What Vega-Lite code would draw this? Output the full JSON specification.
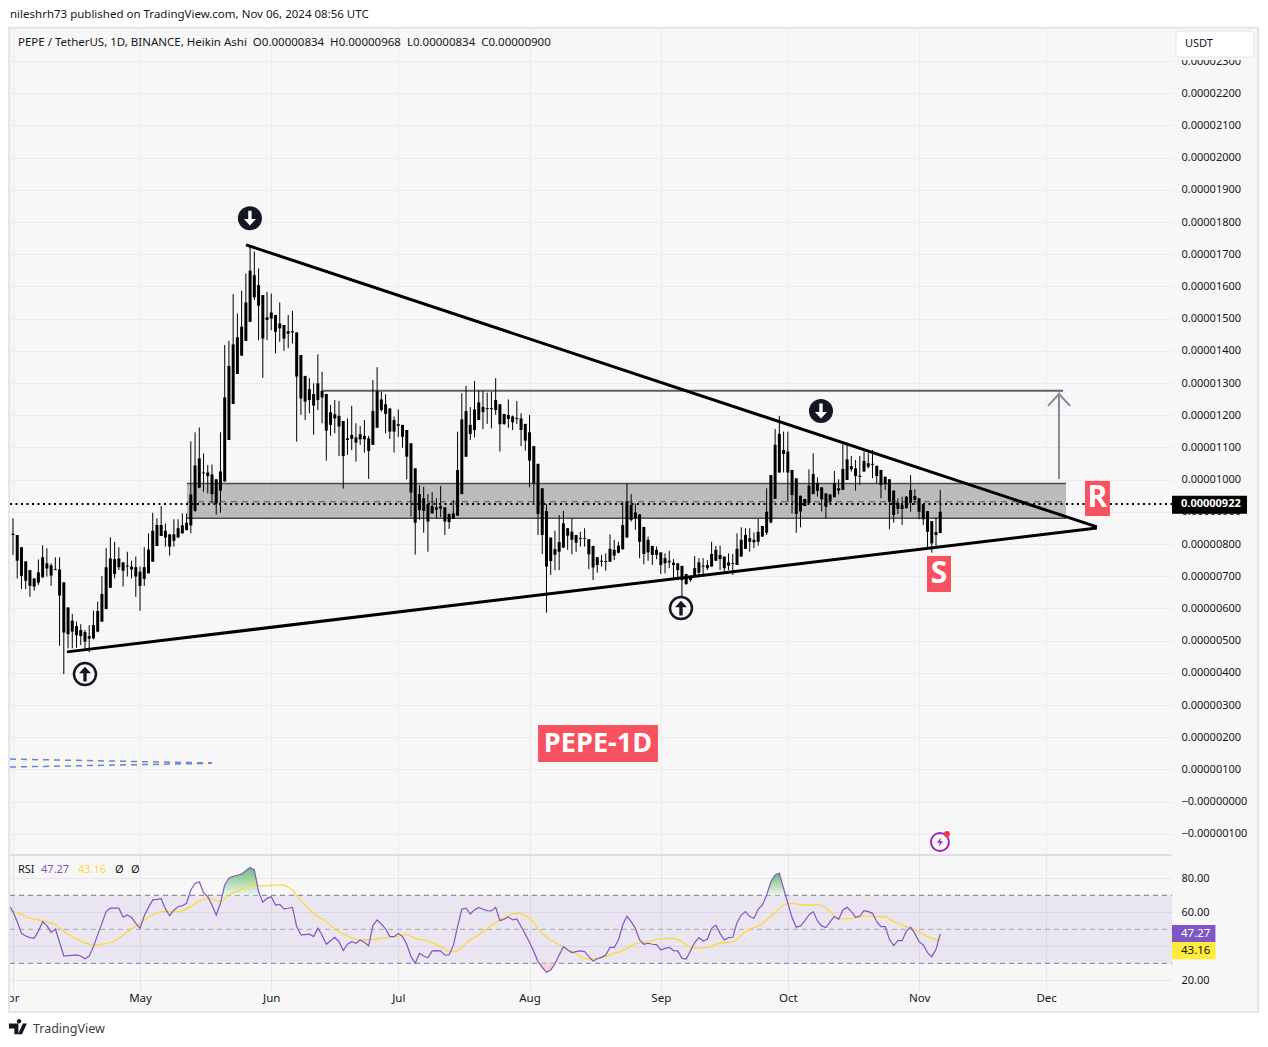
{"$schema":"https://vega.github.io/schema/vega-lite/v6.json","padding":{"left":-1,"top":0,"right":0,"bottom":0},"background":"#f7f7f7","spacing":0,"bounds":"flush","config":{"view":{"stroke":null},"font":"Noto Sans"},
"datasets":{"candles":[
{"d":"2024-04-01","h":880,"l":766,"t":832,"b":828},{"d":"2024-04-02","h":828,"l":693,"t":828,"b":748},{"d":"2024-04-03","h":790,"l":660,"t":790,"b":701},{"d":"2024-04-04","h":746,"l":660,"t":746,"b":686},{"d":"2024-04-05","h":719,"l":636,"t":719,"b":670},{"d":"2024-04-06","h":693,"l":655,"t":693,"b":668},{"d":"2024-04-07","h":752,"l":673,"t":712,"b":680},{"d":"2024-04-08","h":796,"l":694,"t":759,"b":697},{"d":"2024-04-09","h":787,"l":699,"t":740,"b":724},{"d":"2024-04-10","h":740,"l":670,"t":734,"b":702},
{"d":"2024-04-11","h":759,"l":719,"t":722,"b":719},{"d":"2024-04-12","h":759,"l":484,"t":721,"b":640},{"d":"2024-04-13","h":681,"l":396,"t":681,"b":525},{"d":"2024-04-14","h":603,"l":476,"t":603,"b":520},{"d":"2024-04-15","h":583,"l":476,"t":562,"b":528},{"d":"2024-04-16","h":559,"l":478,"t":545,"b":517},{"d":"2024-04-17","h":551,"l":486,"t":533,"b":514},{"d":"2024-04-18","h":533,"l":469,"t":527,"b":497},{"d":"2024-04-19","h":548,"l":464,"t":514,"b":506},{"d":"2024-04-20","h":593,"l":504,"t":548,"b":507},
{"d":"2024-04-21","h":621,"l":526,"t":592,"b":528},{"d":"2024-04-22","h":701,"l":559,"t":645,"b":559},{"d":"2024-04-23","h":787,"l":598,"t":728,"b":598},{"d":"2024-04-24","h":821,"l":664,"t":755,"b":664},{"d":"2024-04-25","h":807,"l":693,"t":753,"b":707},{"d":"2024-04-26","h":790,"l":719,"t":755,"b":728},{"d":"2024-04-27","h":743,"l":668,"t":743,"b":717},{"d":"2024-04-28","h":776,"l":699,"t":733,"b":730},{"d":"2024-04-29","h":748,"l":693,"t":730,"b":721},{"d":"2024-04-30","h":761,"l":636,"t":728,"b":699},
{"d":"2024-05-01","h":730,"l":593,"t":714,"b":670},{"d":"2024-05-02","h":790,"l":670,"t":728,"b":692},{"d":"2024-05-03","h":833,"l":709,"t":783,"b":709},{"d":"2024-05-04","h":897,"l":745,"t":841,"b":745},{"d":"2024-05-05","h":880,"l":794,"t":859,"b":794},{"d":"2024-05-06","h":918,"l":825,"t":859,"b":825},{"d":"2024-05-07","h":864,"l":792,"t":841,"b":820},{"d":"2024-05-08","h":830,"l":764,"t":830,"b":792},{"d":"2024-05-09","h":877,"l":792,"t":830,"b":810},{"d":"2024-05-10","h":877,"l":820,"t":849,"b":820},
{"d":"2024-05-11","h":895,"l":833,"t":858,"b":833},{"d":"2024-05-12","h":895,"l":843,"t":866,"b":843},{"d":"2024-05-13","h":1119,"l":833,"t":954,"b":858},{"d":"2024-05-14","h":1147,"l":900,"t":1044,"b":903},{"d":"2024-05-15","h":1162,"l":973,"t":1066,"b":975},{"d":"2024-05-16","h":1081,"l":962,"t":1022,"b":1019},{"d":"2024-05-17","h":1045,"l":957,"t":1022,"b":1011},{"d":"2024-05-18","h":1047,"l":926,"t":1016,"b":955},{"d":"2024-05-19","h":1001,"l":891,"t":1001,"b":926},{"d":"2024-05-20","h":1147,"l":897,"t":1025,"b":966},
{"d":"2024-05-21","h":1418,"l":994,"t":1255,"b":994},{"d":"2024-05-22","h":1431,"l":1123,"t":1353,"b":1123},{"d":"2024-05-23","h":1576,"l":1235,"t":1420,"b":1235},{"d":"2024-05-24","h":1516,"l":1328,"t":1442,"b":1328},{"d":"2024-05-25","h":1587,"l":1385,"t":1475,"b":1385},{"d":"2024-05-26","h":1640,"l":1431,"t":1550,"b":1431},{"d":"2024-05-27","h":1721,"l":1490,"t":1649,"b":1490},{"d":"2024-05-28","h":1708,"l":1558,"t":1635,"b":1566},{"d":"2024-05-29","h":1656,"l":1433,"t":1604,"b":1540},{"d":"2024-05-30","h":1573,"l":1316,"t":1573,"b":1438},
{"d":"2024-05-31","h":1583,"l":1433,"t":1504,"b":1496},{"d":"2024-06-01","h":1578,"l":1464,"t":1519,"b":1500},{"d":"2024-06-02","h":1511,"l":1392,"t":1511,"b":1459},{"d":"2024-06-03","h":1550,"l":1428,"t":1485,"b":1470},{"d":"2024-06-04","h":1480,"l":1400,"t":1480,"b":1438},{"d":"2024-06-05","h":1511,"l":1408,"t":1461,"b":1453},{"d":"2024-06-06","h":1524,"l":1423,"t":1461,"b":1457},{"d":"2024-06-07","h":1457,"l":1118,"t":1457,"b":1320},{"d":"2024-06-08","h":1387,"l":1201,"t":1387,"b":1252},{"d":"2024-06-09","h":1322,"l":1185,"t":1322,"b":1242},
{"d":"2024-06-10","h":1315,"l":1206,"t":1281,"b":1247},{"d":"2024-06-11","h":1299,"l":1139,"t":1266,"b":1230},{"d":"2024-06-12","h":1389,"l":1216,"t":1299,"b":1247},{"d":"2024-06-13","h":1335,"l":1175,"t":1276,"b":1255},{"d":"2024-06-14","h":1266,"l":1059,"t":1266,"b":1152},{"d":"2024-06-15","h":1232,"l":1136,"t":1209,"b":1170},{"d":"2024-06-16","h":1247,"l":1144,"t":1203,"b":1190},{"d":"2024-06-17","h":1244,"l":1073,"t":1198,"b":1165},{"d":"2024-06-18","h":1182,"l":972,"t":1182,"b":1073},{"d":"2024-06-19","h":1190,"l":1077,"t":1128,"b":1123},
{"d":"2024-06-20","h":1229,"l":1092,"t":1139,"b":1127},{"d":"2024-06-21","h":1175,"l":1056,"t":1131,"b":1115},{"d":"2024-06-22","h":1167,"l":1108,"t":1141,"b":1125},{"d":"2024-06-23","h":1185,"l":1084,"t":1136,"b":1125},{"d":"2024-06-24","h":1136,"l":1002,"t":1128,"b":1089},{"d":"2024-06-25","h":1309,"l":1108,"t":1213,"b":1108},{"d":"2024-06-26","h":1349,"l":1161,"t":1275,"b":1161},{"d":"2024-06-27","h":1273,"l":1211,"t":1249,"b":1216},{"d":"2024-06-28","h":1265,"l":1144,"t":1234,"b":1204},{"d":"2024-06-29","h":1221,"l":1126,"t":1221,"b":1149},
{"d":"2024-06-30","h":1196,"l":1084,"t":1185,"b":1149},{"d":"2024-07-01","h":1218,"l":1133,"t":1172,"b":1167},{"d":"2024-07-02","h":1170,"l":1099,"t":1170,"b":1133},{"d":"2024-07-03","h":1154,"l":1001,"t":1154,"b":1071},{"d":"2024-07-04","h":1113,"l":885,"t":1113,"b":960},{"d":"2024-07-05","h":1035,"l":767,"t":1035,"b":866},{"d":"2024-07-06","h":983,"l":875,"t":955,"b":905},{"d":"2024-07-07","h":978,"l":835,"t":942,"b":903},{"d":"2024-07-08","h":955,"l":776,"t":924,"b":870},{"d":"2024-07-09","h":961,"l":895,"t":918,"b":895},
{"d":"2024-07-10","h":942,"l":878,"t":914,"b":906},{"d":"2024-07-11","h":980,"l":883,"t":918,"b":910},{"d":"2024-07-12","h":914,"l":828,"t":914,"b":870},{"d":"2024-07-13","h":895,"l":847,"t":893,"b":868},{"d":"2024-07-14","h":937,"l":878,"t":895,"b":878},{"d":"2024-07-15","h":1149,"l":888,"t":1030,"b":888},{"d":"2024-07-16","h":1268,"l":955,"t":1187,"b":955},{"d":"2024-07-17","h":1291,"l":1071,"t":1213,"b":1071},{"d":"2024-07-18","h":1225,"l":1123,"t":1170,"b":1142},{"d":"2024-07-19","h":1306,"l":1131,"t":1218,"b":1154},
{"d":"2024-07-20","h":1278,"l":1185,"t":1240,"b":1185},{"d":"2024-07-21","h":1275,"l":1157,"t":1226,"b":1210},{"d":"2024-07-22","h":1270,"l":1173,"t":1222,"b":1219},{"d":"2024-07-23","h":1273,"l":1159,"t":1222,"b":1219},{"d":"2024-07-24","h":1315,"l":1201,"t":1247,"b":1216},{"d":"2024-07-25","h":1234,"l":1087,"t":1234,"b":1172},{"d":"2024-07-26","h":1204,"l":1170,"t":1204,"b":1173},{"d":"2024-07-27","h":1249,"l":1161,"t":1201,"b":1188},{"d":"2024-07-28","h":1199,"l":1154,"t":1196,"b":1178},{"d":"2024-07-29","h":1244,"l":1173,"t":1191,"b":1188},
{"d":"2024-07-30","h":1206,"l":1104,"t":1190,"b":1154},{"d":"2024-07-31","h":1173,"l":1090,"t":1173,"b":1121},{"d":"2024-08-01","h":1201,"l":976,"t":1147,"b":1059},{"d":"2024-08-02","h":1104,"l":927,"t":1104,"b":989},{"d":"2024-08-03","h":1049,"l":828,"t":1049,"b":893},{"d":"2024-08-04","h":973,"l":769,"t":973,"b":828},{"d":"2024-08-05","h":924,"l":587,"t":902,"b":730},{"d":"2024-08-06","h":820,"l":704,"t":820,"b":747},{"d":"2024-08-07","h":841,"l":719,"t":784,"b":767},{"d":"2024-08-08","h":890,"l":719,"t":806,"b":776},
{"d":"2024-08-09","h":903,"l":787,"t":864,"b":789},{"d":"2024-08-10","h":849,"l":782,"t":849,"b":826},{"d":"2024-08-11","h":880,"l":768,"t":838,"b":813},{"d":"2024-08-12","h":828,"l":776,"t":828,"b":804},{"d":"2024-08-13","h":838,"l":792,"t":819,"b":816},{"d":"2024-08-14","h":849,"l":792,"t":819,"b":816},{"d":"2024-08-15","h":815,"l":722,"t":815,"b":768},{"d":"2024-08-16","h":794,"l":688,"t":794,"b":727},{"d":"2024-08-17","h":759,"l":711,"t":759,"b":735},{"d":"2024-08-18","h":766,"l":730,"t":748,"b":745},
{"d":"2024-08-19","h":771,"l":717,"t":747,"b":744},{"d":"2024-08-20","h":830,"l":745,"t":785,"b":745},{"d":"2024-08-21","h":813,"l":750,"t":782,"b":764},{"d":"2024-08-22","h":807,"l":771,"t":795,"b":773},{"d":"2024-08-23","h":932,"l":782,"t":859,"b":784},{"d":"2024-08-24","h":987,"l":820,"t":932,"b":820},{"d":"2024-08-25","h":955,"l":870,"t":921,"b":875},{"d":"2024-08-26","h":926,"l":844,"t":898,"b":880},{"d":"2024-08-27","h":892,"l":756,"t":892,"b":807},{"d":"2024-08-28","h":853,"l":737,"t":853,"b":769},
{"d":"2024-08-29","h":823,"l":748,"t":813,"b":774},{"d":"2024-08-30","h":794,"l":735,"t":794,"b":766},{"d":"2024-08-31","h":792,"l":753,"t":782,"b":766},{"d":"2024-09-01","h":774,"l":707,"t":774,"b":735},{"d":"2024-09-02","h":771,"l":709,"t":756,"b":740},{"d":"2024-09-03","h":779,"l":725,"t":748,"b":743},{"d":"2024-09-04","h":753,"l":688,"t":742,"b":735},{"d":"2024-09-05","h":740,"l":688,"t":740,"b":719},{"d":"2024-09-06","h":732,"l":637,"t":732,"b":688},{"d":"2024-09-07","h":707,"l":673,"t":707,"b":676},
{"d":"2024-09-08","h":701,"l":683,"t":701,"b":688},{"d":"2024-09-09","h":763,"l":699,"t":725,"b":699},{"d":"2024-09-10","h":756,"l":704,"t":743,"b":711},{"d":"2024-09-11","h":756,"l":701,"t":733,"b":730},{"d":"2024-09-12","h":750,"l":719,"t":735,"b":725},{"d":"2024-09-13","h":807,"l":730,"t":769,"b":730},{"d":"2024-09-14","h":794,"l":748,"t":782,"b":748},{"d":"2024-09-15","h":795,"l":719,"t":766,"b":753},{"d":"2024-09-16","h":761,"l":709,"t":761,"b":725},{"d":"2024-09-17","h":771,"l":719,"t":743,"b":733},
{"d":"2024-09-18","h":769,"l":704,"t":741,"b":738},{"d":"2024-09-19","h":833,"l":735,"t":785,"b":735},{"d":"2024-09-20","h":852,"l":761,"t":813,"b":761},{"d":"2024-09-21","h":849,"l":785,"t":828,"b":785},{"d":"2024-09-22","h":849,"l":776,"t":818,"b":807},{"d":"2024-09-23","h":836,"l":787,"t":813,"b":805},{"d":"2024-09-24","h":878,"l":795,"t":838,"b":807},{"d":"2024-09-25","h":856,"l":823,"t":856,"b":823},{"d":"2024-09-26","h":973,"l":828,"t":900,"b":835},{"d":"2024-09-27","h":1014,"l":864,"t":1014,"b":867},
{"d":"2024-09-28","h":1157,"l":940,"t":1108,"b":940},{"d":"2024-09-29","h":1198,"l":1022,"t":1142,"b":1022},{"d":"2024-09-30","h":1149,"l":1022,"t":1092,"b":1080},{"d":"2024-10-01","h":1149,"l":931,"t":1087,"b":1022},{"d":"2024-10-02","h":1030,"l":895,"t":1030,"b":952},{"d":"2024-10-03","h":1004,"l":835,"t":1004,"b":893},{"d":"2024-10-04","h":950,"l":852,"t":950,"b":901},{"d":"2024-10-05","h":940,"l":918,"t":940,"b":918},{"d":"2024-10-06","h":1032,"l":926,"t":981,"b":928},{"d":"2024-10-07","h":1082,"l":955,"t":1017,"b":955},
{"d":"2024-10-08","h":1007,"l":947,"t":989,"b":965},{"d":"2024-10-09","h":976,"l":901,"t":976,"b":939},{"d":"2024-10-10","h":957,"l":880,"t":957,"b":916},{"d":"2024-10-11","h":954,"l":926,"t":954,"b":932},{"d":"2024-10-12","h":1027,"l":945,"t":989,"b":945},{"d":"2024-10-13","h":1001,"l":954,"t":973,"b":966},{"d":"2024-10-14","h":1110,"l":968,"t":1033,"b":968},{"d":"2024-10-15","h":1115,"l":999,"t":1063,"b":999},{"d":"2024-10-16","h":1073,"l":1025,"t":1042,"b":1032},{"d":"2024-10-17","h":1061,"l":966,"t":1035,"b":1011},
{"d":"2024-10-18","h":1073,"l":983,"t":1012,"b":1008},{"d":"2024-10-19","h":1087,"l":1025,"t":1058,"b":1025},{"d":"2024-10-20","h":1082,"l":1035,"t":1051,"b":1040},{"d":"2024-10-21","h":1092,"l":1004,"t":1049,"b":1046},{"d":"2024-10-22","h":1043,"l":989,"t":1043,"b":1011},{"d":"2024-10-23","h":1030,"l":942,"t":1030,"b":983},{"d":"2024-10-24","h":1009,"l":968,"t":1009,"b":986},{"d":"2024-10-25","h":1001,"l":846,"t":1001,"b":931},{"d":"2024-10-26","h":966,"l":866,"t":966,"b":890},{"d":"2024-10-27","h":942,"l":893,"t":928,"b":909},
{"d":"2024-10-28","h":947,"l":859,"t":921,"b":909},{"d":"2024-10-29","h":949,"l":911,"t":947,"b":911},{"d":"2024-10-30","h":1014,"l":900,"t":968,"b":928},{"d":"2024-10-31","h":970,"l":921,"t":949,"b":937},{"d":"2024-11-01","h":942,"l":877,"t":942,"b":900},{"d":"2024-11-02","h":924,"l":859,"t":924,"b":877},{"d":"2024-11-03","h":902,"l":787,"t":902,"b":838},{"d":"2024-11-04","h":871,"l":773,"t":871,"b":802},{"d":"2024-11-05","h":883,"l":794,"t":837,"b":828},{"d":"2024-11-06","h":968,"l":834,"t":900,"b":834}
],
"rsi":[
{"d":"2024-03-31T07:00:00Z","y":63.3},{"d":"2024-04-01","y":60.4},{"d":"2024-04-02","y":54.5},{"d":"2024-04-03","y":47.6},{"d":"2024-04-04","y":46.1},{"d":"2024-04-05","y":45.1},{"d":"2024-04-06","y":44.7},{"d":"2024-04-07","y":49},{"d":"2024-04-08","y":54.5},{"d":"2024-04-09","y":52.2},{"d":"2024-04-10","y":48.2},{"d":"2024-04-11","y":50.2},{"d":"2024-04-12","y":42.4},{"d":"2024-04-13","y":34.3},{"d":"2024-04-14","y":34.5},{"d":"2024-04-15","y":34.7},{"d":"2024-04-16","y":34.9},{"d":"2024-04-17","y":34.3},{"d":"2024-04-18","y":32.7},{"d":"2024-04-19","y":34.3},{"d":"2024-04-20","y":39.8},{"d":"2024-04-21","y":46.7},{"d":"2024-04-22","y":53.5},{"d":"2024-04-23","y":60.4},{"d":"2024-04-24","y":62.4},{"d":"2024-04-25","y":62.4},{"d":"2024-04-26","y":62.4},{"d":"2024-04-27","y":57.1},{"d":"2024-04-28","y":58.4},{"d":"2024-04-29","y":56.9},{"d":"2024-04-30","y":53.5},
{"d":"2024-05-01","y":50.6},{"d":"2024-05-02","y":58},{"d":"2024-05-03","y":62.9},{"d":"2024-05-04","y":67.3},{"d":"2024-05-05","y":67.6},{"d":"2024-05-06","y":68},{"d":"2024-05-07","y":62},{"d":"2024-05-08","y":58},{"d":"2024-05-09","y":61.4},{"d":"2024-05-10","y":63.3},{"d":"2024-05-11","y":63.9},{"d":"2024-05-12","y":65.3},{"d":"2024-05-13","y":73.1},{"d":"2024-05-14","y":77},{"d":"2024-05-15","y":78},{"d":"2024-05-16","y":71.6},{"d":"2024-05-17","y":69.2},{"d":"2024-05-18","y":64.3},{"d":"2024-05-19","y":58.4},{"d":"2024-05-20","y":65.3},{"d":"2024-05-21","y":76.1},{"d":"2024-05-22","y":80},{"d":"2024-05-23","y":81.2},{"d":"2024-05-24","y":81.8},{"d":"2024-05-25","y":82.5},{"d":"2024-05-26","y":84.5},{"d":"2024-05-27","y":86.3},{"d":"2024-05-28","y":84.9},{"d":"2024-05-29","y":72.2},{"d":"2024-05-30","y":65.9},{"d":"2024-05-31","y":68.2},
{"d":"2024-06-01","y":69.2},{"d":"2024-06-02","y":64.3},{"d":"2024-06-03","y":64.7},{"d":"2024-06-04","y":62},{"d":"2024-06-05","y":62.4},{"d":"2024-06-06","y":62.9},{"d":"2024-06-07","y":51.6},{"d":"2024-06-08","y":46.7},{"d":"2024-06-09","y":46.9},{"d":"2024-06-10","y":47.1},{"d":"2024-06-11","y":45.7},{"d":"2024-06-12","y":50.6},{"d":"2024-06-13","y":46.7},{"d":"2024-06-14","y":41.2},{"d":"2024-06-15","y":43.3},{"d":"2024-06-16","y":45.3},{"d":"2024-06-17","y":42.7},{"d":"2024-06-18","y":37.5},{"d":"2024-06-19","y":41.2},{"d":"2024-06-20","y":42.7},{"d":"2024-06-21","y":41.8},{"d":"2024-06-22","y":43.7},{"d":"2024-06-23","y":42.4},{"d":"2024-06-24","y":40.2},{"d":"2024-06-25","y":52.2},{"d":"2024-06-26","y":55.5},{"d":"2024-06-27","y":53.1},{"d":"2024-06-28","y":50.2},{"d":"2024-06-29","y":45.7},{"d":"2024-06-30","y":45.7},
{"d":"2024-07-01","y":47.6},{"d":"2024-07-02","y":45.7},{"d":"2024-07-03","y":41.2},{"d":"2024-07-04","y":33.9},{"d":"2024-07-05","y":30},{"d":"2024-07-06","y":35.9},{"d":"2024-07-07","y":34.3},{"d":"2024-07-08","y":33.3},{"d":"2024-07-09","y":37.3},{"d":"2024-07-10","y":37.5},{"d":"2024-07-11","y":37.3},{"d":"2024-07-12","y":34.9},{"d":"2024-07-13","y":34.9},{"d":"2024-07-14","y":40.4},{"d":"2024-07-15","y":51.6},{"d":"2024-07-16","y":61.8},{"d":"2024-07-17","y":62.4},{"d":"2024-07-18","y":59},{"d":"2024-07-19","y":61.4},{"d":"2024-07-20","y":62.9},{"d":"2024-07-21","y":61.8},{"d":"2024-07-22","y":61},{"d":"2024-07-23","y":60.8},{"d":"2024-07-24","y":62.9},{"d":"2024-07-25","y":55.1},{"d":"2024-07-26","y":55.9},{"d":"2024-07-27","y":57.3},{"d":"2024-07-28","y":55.5},{"d":"2024-07-29","y":56.1},{"d":"2024-07-30","y":51.6},{"d":"2024-07-31","y":47.1},
{"d":"2024-08-01","y":42.4},{"d":"2024-08-02","y":36.9},{"d":"2024-08-03","y":31},{"d":"2024-08-04","y":27.6},{"d":"2024-08-05","y":24.7},{"d":"2024-08-06","y":26.1},{"d":"2024-08-07","y":29.6},{"d":"2024-08-08","y":34.9},{"d":"2024-08-09","y":39.8},{"d":"2024-08-10","y":37.8},{"d":"2024-08-11","y":36.3},{"d":"2024-08-12","y":36.9},{"d":"2024-08-13","y":37.3},{"d":"2024-08-14","y":36.9},{"d":"2024-08-15","y":33.9},{"d":"2024-08-16","y":31.4},{"d":"2024-08-17","y":32.7},{"d":"2024-08-18","y":33.5},{"d":"2024-08-19","y":34.9},{"d":"2024-08-20","y":39.4},{"d":"2024-08-21","y":39.4},{"d":"2024-08-22","y":43.7},{"d":"2024-08-23","y":52.5},{"d":"2024-08-24","y":57.8},{"d":"2024-08-25","y":54.5},{"d":"2024-08-26","y":50.6},{"d":"2024-08-27","y":43.7},{"d":"2024-08-28","y":41.2},{"d":"2024-08-29","y":41.8},{"d":"2024-08-30","y":41.2},{"d":"2024-08-31","y":41},
{"d":"2024-09-01","y":37.8},{"d":"2024-09-02","y":38.8},{"d":"2024-09-03","y":39.4},{"d":"2024-09-04","y":37.5},{"d":"2024-09-05","y":37.3},{"d":"2024-09-06","y":32.9},{"d":"2024-09-07","y":32.5},{"d":"2024-09-08","y":37.3},{"d":"2024-09-09","y":42.2},{"d":"2024-09-10","y":45.1},{"d":"2024-09-11","y":43.1},{"d":"2024-09-12","y":44.1},{"d":"2024-09-13","y":50.6},{"d":"2024-09-14","y":52.4},{"d":"2024-09-15","y":47.6},{"d":"2024-09-16","y":43.7},{"d":"2024-09-17","y":45.1},{"d":"2024-09-18","y":45.3},{"d":"2024-09-19","y":53.9},{"d":"2024-09-20","y":58.4},{"d":"2024-09-21","y":60.4},{"d":"2024-09-22","y":57.5},{"d":"2024-09-23","y":56.5},{"d":"2024-09-24","y":61.8},{"d":"2024-09-25","y":64.3},{"d":"2024-09-26","y":70.2},{"d":"2024-09-27","y":78},{"d":"2024-09-28","y":82},{"d":"2024-09-29","y":82.9},{"d":"2024-09-30","y":74.1},
{"d":"2024-10-01","y":65.3},{"d":"2024-10-02","y":56.9},{"d":"2024-10-03","y":51.2},{"d":"2024-10-04","y":52},{"d":"2024-10-05","y":54.9},{"d":"2024-10-06","y":58.4},{"d":"2024-10-07","y":60.4},{"d":"2024-10-08","y":54.9},{"d":"2024-10-09","y":52},{"d":"2024-10-10","y":51},{"d":"2024-10-11","y":54.5},{"d":"2024-10-12","y":57.5},{"d":"2024-10-13","y":55.9},{"d":"2024-10-14","y":61.4},{"d":"2024-10-15","y":62.9},{"d":"2024-10-16","y":60.4},{"d":"2024-10-17","y":57.1},{"d":"2024-10-18","y":57.8},{"d":"2024-10-19","y":61},{"d":"2024-10-20","y":60.4},{"d":"2024-10-21","y":59.4},{"d":"2024-10-22","y":54.5},{"d":"2024-10-23","y":51.6},{"d":"2024-10-24","y":51.6},{"d":"2024-10-25","y":44.1},{"d":"2024-10-26","y":40.4},{"d":"2024-10-27","y":43.3},{"d":"2024-10-28","y":43.3},{"d":"2024-10-29","y":49},{"d":"2024-10-30","y":51.2},{"d":"2024-10-31","y":47.6},
{"d":"2024-11-01","y":42.7},{"d":"2024-11-02","y":40.8},{"d":"2024-11-03","y":36.3},{"d":"2024-11-04","y":33.9},{"d":"2024-11-05","y":38.2},{"d":"2024-11-06","y":47.27}
],
"ma":[
{"d":"2024-03-31T07:00:00Z","y":60.8},{"d":"2024-04-02","y":59.8},{"d":"2024-04-05","y":56.5},{"d":"2024-04-08","y":54.9},{"d":"2024-04-11","y":52.7},{"d":"2024-04-14","y":47.1},{"d":"2024-04-17","y":43.1},{"d":"2024-04-20","y":40.8},{"d":"2024-04-22","y":41.2},{"d":"2024-04-25","y":43.1},{"d":"2024-04-28","y":48.6},{"d":"2024-05-01","y":53.5},{"d":"2024-05-04","y":58.4},{"d":"2024-05-06","y":60.4},{"d":"2024-05-09","y":60.4},{"d":"2024-05-11","y":61},{"d":"2024-05-13","y":63.3},{"d":"2024-05-15","y":66.7},{"d":"2024-05-17","y":68.2},{"d":"2024-05-20","y":66.3},{"d":"2024-05-22","y":70.2},{"d":"2024-05-25","y":73.5},{"d":"2024-05-27","y":76.1},{"d":"2024-05-30","y":75.5},{"d":"2024-06-03","y":76.1},{"d":"2024-06-06","y":73.1},{"d":"2024-06-07","y":69.8},{"d":"2024-06-09","y":64.3},{"d":"2024-06-11","y":59.4},{"d":"2024-06-14","y":54.5},{"d":"2024-06-16","y":50.2},{"d":"2024-06-19","y":46.1},{"d":"2024-06-21","y":44.1},{"d":"2024-06-24","y":43.7},{"d":"2024-06-27","y":44.7},{"d":"2024-06-30","y":45.7},{"d":"2024-07-03","y":46.7},{"d":"2024-07-05","y":44.7},{"d":"2024-07-08","y":43.1},{"d":"2024-07-11","y":39.8},{"d":"2024-07-13","y":36.9},{"d":"2024-07-15","y":37.5},{"d":"2024-07-17","y":41.8},{"d":"2024-07-21","y":48.6},{"d":"2024-07-24","y":53.9},{"d":"2024-07-27","y":58},{"d":"2024-07-29","y":59.4},{"d":"2024-08-01","y":56.5},{"d":"2024-08-04","y":47.6},{"d":"2024-08-08","y":40.8},{"d":"2024-08-11","y":36.9},{"d":"2024-08-15","y":32.5},{"d":"2024-08-18","y":33.3},{"d":"2024-08-21","y":35.9},{"d":"2024-08-23","y":37.5},{"d":"2024-08-26","y":41.4},{"d":"2024-08-29","y":42.7},{"d":"2024-08-31","y":44.1},{"d":"2024-09-03","y":44.7},{"d":"2024-09-05","y":44.1},{"d":"2024-09-07","y":40.8},{"d":"2024-09-09","y":38.8},{"d":"2024-09-12","y":39.4},{"d":"2024-09-15","y":41.8},{"d":"2024-09-18","y":42.7},{"d":"2024-09-21","y":48.6},{"d":"2024-09-24","y":52},{"d":"2024-09-27","y":57.5},{"d":"2024-09-30","y":64.3},{"d":"2024-10-02","y":65.3},{"d":"2024-10-05","y":64.3},{"d":"2024-10-08","y":64.5},{"d":"2024-10-11","y":60.4},{"d":"2024-10-13","y":56.3},{"d":"2024-10-16","y":56.3},{"d":"2024-10-19","y":57.8},{"d":"2024-10-24","y":57.5},{"d":"2024-10-26","y":54.5},{"d":"2024-10-29","y":51.6},{"d":"2024-10-31","y":49.6},{"d":"2024-11-03","y":45.7},{"d":"2024-11-06","y":43.16}
]},
"vconcat":[
{"width":1162,"height":827,
"encoding":{
"x":{"field":"d","type":"temporal","scale":{"type":"utc","domain":["2024-03-31T07:00:00Z","2024-12-30T17:45:00Z"],"padding":0},"axis":{"title":null,"labels":false,"ticks":false,"domain":false,"grid":true,"gridColor":"#ececee","tickCount":{"interval":"month","step":1}}},
"y":{"field":"y","type":"quantitative","scale":{"domain":[-165.8,2402.5],"zero":false,"nice":false},"axis":{"orient":"right","title":null,"domain":false,"ticks":false,"grid":true,"gridColor":"#ececee","labelPadding":9,"labelFontSize":11,"labelColor":"#131722","labelFont":"Noto Sans","labelBound":false,"labelOverlap":false,"values":[-100,0,100,200,300,400,500,600,700,800,900,1000,1100,1200,1300,1400,1500,1600,1700,1800,1900,2000,2100,2200,2300],"labelExpr":"datum.value<=0?'−'+format(abs(datum.value)/100000000,'.8f'):format(datum.value/100000000,'.8f')"}}
},
"layer":[
{"data":{"values":[{"d":"2024-05-12T02:00:00Z","d2":"2024-12-05T17:00:00Z","y":880,"y2":988}]},"mark":{"type":"rect","fill":"#8c8c8c","opacity":0.55},"encoding":{"x2":{"field":"d2"},"y2":{"field":"y2"}}},
{"data":{"values":[{"d":"2024-05-12T02:00:00Z","d2":"2024-12-05T17:00:00Z","y":988},{"d":"2024-05-12T02:00:00Z","d2":"2024-12-05T17:00:00Z","y":880}]},"mark":{"type":"rule","color":"#4a4a4a","strokeWidth":1.5},"encoding":{"x2":{"field":"d2"}}},
{"data":{"values":[{"d":"2024-05-12T02:00:00Z","d2":"2024-12-05T17:00:00Z","y":931}]},"mark":{"type":"rule","color":"#555555","strokeWidth":1,"strokeDash":[6,5]},"encoding":{"x2":{"field":"d2"}}},
{"data":{"values":[{"d":"2024-06-13T05:00:00Z","d2":"2024-12-05T00:00:00Z","y":1276}]},"mark":{"type":"rule","color":"#5d606b","strokeWidth":2},"encoding":{"x2":{"field":"d2"}}},
{"data":{"values":[{"d":"2024-12-04T01:00:00Z","y":1002,"o":1},{"d":"2024-12-04T01:00:00Z","y":1266,"o":2},{"d":"2024-12-01T11:00:00Z","y":1229,"o":3},{"d":"2024-12-04T01:00:00Z","y":1266,"o":4},{"d":"2024-12-06T16:00:00Z","y":1229,"o":5}]},"mark":{"type":"line","color":"#868a96","strokeWidth":2},"encoding":{"order":{"field":"o","type":"quantitative"}}},
{"data":{"values":[{"d":"2024-03-31T07:00:00Z","y":132,"s":"a"},{"d":"2024-05-18T00:00:00Z","y":120,"s":"a"},{"d":"2024-03-31T07:00:00Z","y":107.5,"s":"b"},{"d":"2024-05-18T00:00:00Z","y":119,"s":"b"}]},"mark":{"type":"line","color":"#fff6d8","strokeWidth":2.5},"encoding":{"detail":{"field":"s"}}},
{"data":{"values":[{"d":"2024-03-31T07:00:00Z","y":132,"s":"a"},{"d":"2024-05-18T00:00:00Z","y":120,"s":"a"},{"d":"2024-03-31T07:00:00Z","y":107.5,"s":"b"},{"d":"2024-05-18T00:00:00Z","y":119,"s":"b"}]},"mark":{"type":"line","color":"#5b86f0","strokeWidth":1.5,"strokeDash":[6,5]},"encoding":{"detail":{"field":"s"}}},
{"data":{"name":"candles"},"mark":{"type":"rule","color":"#000000","strokeWidth":1},"encoding":{"y":{"field":"h","type":"quantitative","scale":{"domain":[-165.8,2402.5],"zero":false,"nice":false},"axis":{"orient":"right","title":null,"domain":false,"ticks":false,"grid":true,"gridColor":"#ececee","labelPadding":9,"labelFontSize":11,"labelColor":"#131722","labelFont":"Noto Sans","labelBound":false,"labelOverlap":false,"values":[-100,0,100,200,300,400,500,600,700,800,900,1000,1100,1200,1300,1400,1500,1600,1700,1800,1900,2000,2100,2200,2300],"labelExpr":"datum.value<=0?'−'+format(abs(datum.value)/100000000,'.8f'):format(datum.value/100000000,'.8f')"}},"y2":{"field":"l"}}},
{"data":{"name":"candles"},"mark":{"type":"bar","color":"#000000","size":3},"encoding":{"y":{"field":"t","type":"quantitative","scale":{"domain":[-165.8,2402.5],"zero":false,"nice":false},"axis":{"orient":"right","title":null,"domain":false,"ticks":false,"grid":true,"gridColor":"#ececee","labelPadding":9,"labelFontSize":11,"labelColor":"#131722","labelFont":"Noto Sans","labelBound":false,"labelOverlap":false,"values":[-100,0,100,200,300,400,500,600,700,800,900,1000,1100,1200,1300,1400,1500,1600,1700,1800,1900,2000,2100,2200,2300],"labelExpr":"datum.value<=0?'−'+format(abs(datum.value)/100000000,'.8f'):format(datum.value/100000000,'.8f')"}},"y2":{"field":"b"}}},
{"data":{"values":[{"d":"2024-03-31T07:00:00Z","d2":"2024-12-30T17:45:00Z","y":924}]},"mark":{"type":"rule","color":"#000000","strokeWidth":2,"strokeDash":[2,3.5]},"encoding":{"x2":{"field":"d2"}}},
{"data":{"values":[{"d":"2024-05-26T01:00:00Z","y":1729,"s":"resistance"},{"d":"2024-12-13T00:00:00Z","y":853,"s":"resistance"},{"d":"2024-04-13T18:00:00Z","y":465,"s":"support"},{"d":"2024-12-13T00:00:00Z","y":850,"s":"support"}]},"mark":{"type":"line","color":"#000000","strokeWidth":3},"encoding":{"detail":{"field":"s"}}},
{"data":{"values":[{"d":"2024-12-10T04:30:00Z","d2":"2024-12-16T02:00:00Z","y":887,"y2":996},{"d":"2024-11-02T21:00:00Z","d2":"2024-11-08T13:00:00Z","y":651,"y2":763},{"d":"2024-08-03T00:00:00Z","d2":"2024-08-31T08:00:00Z","y":123,"y2":238}]},"mark":{"type":"rect","fill":"#f7525f"},"encoding":{"x2":{"field":"d2"},"y2":{"field":"y2"}}},
{"data":{"values":[{"d":"2024-12-13T03:00:00Z","y":943,"t":"R"},{"d":"2024-11-05T17:00:00Z","y":707,"t":"S"}]},"mark":{"type":"text","color":"#ffffff","fontWeight":"bold","fontSize":30,"font":"Open Sans","baseline":"middle"},"encoding":{"text":{"field":"t"}}},
{"data":{"values":[{"d":"2024-08-17T04:00:00Z","y":180,"t":"PEPE-1D"}]},"mark":{"type":"text","color":"#ffffff","fontWeight":"bold","fontSize":27,"font":"Open Sans","baseline":"middle"},"encoding":{"text":{"field":"t"}}},
{"data":{"values":[{"d":"2024-05-26T23:00:00Z","y":1812},{"d":"2024-10-08T20:00:00Z","y":1213}]},"mark":{"type":"point","shape":"circle","filled":true,"color":"#131722","size":576,"opacity":1}},
{"data":{"values":[{"d":"2024-05-26T23:00:00Z","y":1812},{"d":"2024-10-08T20:00:00Z","y":1213}]},"mark":{"type":"point","shape":"M-0.14,-0.62H0.14V0.08H0.5L0,0.62L-0.5,0.08H-0.14Z","filled":true,"color":"#ffffff","size":576,"opacity":1}},
{"data":{"values":[{"d":"2024-04-18T00:00:00Z","y":396},{"d":"2024-09-05T18:30:00Z","y":601}]},"mark":{"type":"point","shape":"circle","filled":true,"fill":"#f7f7f7","stroke":"#131722","strokeWidth":2.5,"size":484,"opacity":1}},
{"data":{"values":[{"d":"2024-04-18T00:00:00Z","y":396},{"d":"2024-09-05T18:30:00Z","y":601}]},"mark":{"type":"point","shape":"M-0.14,0.62H0.14V-0.08H0.5L0,-0.62L-0.5,-0.08H-0.14Z","filled":true,"color":"#131722","size":576,"opacity":1}},
{"data":{"values":[{"d":"2024-11-05T22:30:00Z","y":-125.5}]},"mark":{"type":"point","shape":"circle","filled":false,"stroke":"#9c27b0","strokeWidth":2,"size":324,"opacity":1}},
{"data":{"values":[{"d":"2024-11-05T22:30:00Z","y":-125.5}]},"mark":{"type":"point","shape":"M0.2,-0.9L-0.6,0.15H-0.05L-0.2,0.9L0.6,-0.15H0.05Z","filled":true,"color":"#9c27b0","size":100,"opacity":1}},
{"data":{"values":[{"d":"2024-11-07T14:00:00Z","y":-100.6}]},"mark":{"type":"point","shape":"circle","filled":true,"color":"#f23645","size":36,"opacity":1}},
{"data":{"values":[{"d":"2024-04-02T04:00:00Z","y":2356,"t":"PEPE / TetherUS, 1D, BINANCE, Heikin Ashi\u00a0\u00a0O0.00000834\u00a0\u00a0H0.00000968\u00a0\u00a0L0.00000834\u00a0\u00a0C0.00000900"}]},"mark":{"type":"text","color":"#131722","fontSize":11.5,"font":"Noto Sans","align":"left","baseline":"middle"},"encoding":{"text":{"field":"t"}}},
{"data":{"values":[{"d":"2024-12-30T17:45:00Z","d2":"2025-01-20T01:00:00Z","y":2303,"y2":2402.5}]},"mark":{"type":"rect","fill":"#f7f7f7"},"encoding":{"x2":{"field":"d2"},"y2":{"field":"y2"}}},
{"data":{"values":[{"d":"2024-12-31T16:00:00Z","d2":"2025-01-19T02:00:00Z","y":2312,"y2":2393}]},"mark":{"type":"rect","fill":"#ffffff","stroke":"#e0e3eb","strokeWidth":1,"cornerRadius":3},"encoding":{"x2":{"field":"d2"},"y2":{"field":"y2"}}},
{"data":{"values":[{"d":"2025-01-02T19:00:00Z","y":2353,"t":"USDT"}]},"mark":{"type":"text","color":"#131722","fontSize":11,"font":"Noto Sans","align":"left","baseline":"middle"},"encoding":{"text":{"field":"t"}}},
{"data":{"values":[{"d":"2024-12-30T17:45:00Z","d2":"2025-01-17T11:00:00Z","y":894,"y2":950}]},"mark":{"type":"rect","fill":"#000000"},"encoding":{"x2":{"field":"d2"},"y2":{"field":"y2"}}},
{"data":{"values":[{"d":"2024-12-30T17:45:00Z","y":924,"t":"0.00000922"}]},"mark":{"type":"text","color":"#ffffff","fontSize":11,"fontWeight":"bold","font":"Noto Sans","align":"left","baseline":"middle","dx":9},"encoding":{"text":{"field":"t"}}},
{"data":{"values":[{"d":"2024-03-28T22:00:00Z","d2":"2025-01-22T10:00:00Z","y":2405.6,"y2":2489.4},{"d":"2024-03-28T22:00:00Z","d2":"2024-03-31T02:00:00Z","y":-762,"y2":2489.4},{"d":"2025-01-20T01:00:00Z","d2":"2025-01-22T10:00:00Z","y":-762,"y2":2489.4}]},"mark":{"type":"rect","fill":"#ffffff"},"encoding":{"x2":{"field":"d2"},"y2":{"field":"y2"}}},
{"data":{"values":[{"d":"2024-03-31T07:00:00Z","y":2443,"t":"nileshrh73 published on TradingView.com, Nov 06, 2024 08:56 UTC"}]},"mark":{"type":"text","color":"#131722","fontSize":11.5,"font":"Noto Sans","align":"left","baseline":"middle"},"encoding":{"text":{"field":"t"}}}
]},
{"width":1162,"height":135,
"encoding":{
"x":{"field":"d","type":"temporal","scale":{"type":"utc","domain":["2024-03-31T07:00:00Z","2024-12-30T17:45:00Z"]},"axis":{"title":null,"domain":false,"ticks":false,"grid":true,"gridColor":"#e6e4ec","tickCount":{"interval":"month","step":1},"format":"%b","labelFontSize":11.5,"labelColor":"#131722","labelFont":"Noto Sans","labelPadding":2,"labelBound":false,"labelFlush":false,"labelOverlap":false,"labelExpr":"datum.label=='Apr'?'pr':datum.label","encode":{"labels":{"update":{"dx":{"signal":"datum.value<1712000000000?3:0"}}}}}},
"y":{"field":"y","type":"quantitative","scale":{"domain":[14.3,93.7],"zero":false,"nice":false},"axis":{"orient":"right","title":null,"domain":false,"ticks":false,"grid":true,"gridColor":"#e6e4ec","labelPadding":9,"labelFontSize":11,"labelColor":"#131722","labelFont":"Noto Sans","labelBound":false,"labelOverlap":false,"values":[20,40,60,80],"labelExpr":"datum.value==40?'':format(datum.value,'.2f')"}}
},
"layer":[
{"data":{"values":[{"d":"2024-03-31T07:00:00Z","d2":"2024-12-30T17:45:00Z","y":30,"y2":70}]},"mark":{"type":"rect","fill":"#7e57c2","opacity":0.1},"encoding":{"x2":{"field":"d2"},"y2":{"field":"y2"}}},
{"data":{"values":[{"d":"2024-03-31T07:00:00Z","d2":"2024-12-30T17:45:00Z","y":70},{"d":"2024-03-31T07:00:00Z","d2":"2024-12-30T17:45:00Z","y":30}]},"mark":{"type":"rule","color":"#787b86","strokeWidth":1,"strokeDash":[5,4]},"encoding":{"x2":{"field":"d2"}}},
{"data":{"values":[{"d":"2024-03-31T07:00:00Z","d2":"2024-12-30T17:45:00Z","y":50}]},"mark":{"type":"rule","color":"#a3a6af","strokeWidth":1,"strokeDash":[5,4]},"encoding":{"x2":{"field":"d2"}}},
{"data":{"values":[{"z":"a","d":"2024-05-20T10:00:00Z","y":70,"y2":70},{"z":"a","d":"2024-05-21","y":76.1,"y2":70},{"z":"a","d":"2024-05-22","y":80,"y2":70},{"z":"a","d":"2024-05-23","y":81.2,"y2":70},{"z":"a","d":"2024-05-24","y":81.8,"y2":70},{"z":"a","d":"2024-05-25","y":82.5,"y2":70},{"z":"a","d":"2024-05-26","y":84.5,"y2":70},{"z":"a","d":"2024-05-27","y":86.3,"y2":70},{"z":"a","d":"2024-05-28","y":84.9,"y2":70},{"z":"a","d":"2024-05-29","y":72.2,"y2":70},{"z":"a","d":"2024-05-29T08:00:00Z","y":70,"y2":70},{"z":"b","d":"2024-09-26","y":70.2,"y2":70},{"z":"b","d":"2024-09-27","y":78,"y2":70},{"z":"b","d":"2024-09-28","y":82,"y2":70},{"z":"b","d":"2024-09-29","y":82.9,"y2":70},{"z":"b","d":"2024-09-30","y":74.1,"y2":70},{"z":"b","d":"2024-09-30T12:00:00Z","y":70,"y2":70}]},"mark":{"type":"area","color":{"x1":0,"y1":0,"x2":0,"y2":1,"gradient":"linear","stops":[{"offset":0,"color":"#4caf50"},{"offset":1,"color":"#eaf4ea"}]},"opacity":0.8},"encoding":{"y2":{"field":"y2"},"detail":{"field":"z"}}},
{"data":{"values":[{"d":"2024-08-03T12:00:00Z","y":30,"y2":30},{"d":"2024-08-04","y":27.6,"y2":30},{"d":"2024-08-05","y":24.7,"y2":30},{"d":"2024-08-06","y":26.1,"y2":30},{"d":"2024-08-07","y":29.6,"y2":30}]},"mark":{"type":"area","color":"#f4c7c7","opacity":0.8},"encoding":{"y2":{"field":"y2"}}},
{"data":{"name":"ma"},"mark":{"type":"line","color":"#fdd835","strokeWidth":1.3,"interpolate":"monotone"}},
{"data":{"name":"rsi"},"mark":{"type":"line","color":"#7e57c2","strokeWidth":1.2}},
{"data":{"values":[{"d":"2024-03-31T07:00:00Z","d2":"2024-12-30T17:45:00Z","y":93.7}]},"mark":{"type":"rule","color":"#d6d3e3","strokeWidth":1.5},"encoding":{"x2":{"field":"d2"}}},
{"data":{"values":[{"d":"2024-04-02T04:00:00Z","y":85,"t":"RSI"},{"d":"2024-04-25T02:00:00Z","y":85,"t":"Ø"},{"d":"2024-04-28T21:00:00Z","y":85,"t":"Ø"}]},"mark":{"type":"text","color":"#131722","fontSize":11,"align":"left","baseline":"middle","font":"Noto Sans"},"encoding":{"text":{"field":"t"}}},
{"data":{"values":[{"d":"2024-04-07T15:00:00Z","y":85,"t":"47.27"}]},"mark":{"type":"text","color":"#7e57c2","fontSize":11,"align":"left","baseline":"middle","font":"Noto Sans"},"encoding":{"text":{"field":"t"}}},
{"data":{"values":[{"d":"2024-04-16T08:00:00Z","y":85,"t":"43.16"}]},"mark":{"type":"text","color":"#fdd835","fontSize":11,"align":"left","baseline":"middle","font":"Noto Sans"},"encoding":{"text":{"field":"t"}}},
{"data":{"values":[{"d":"2024-12-30T17:45:00Z","d2":"2025-01-10T00:00:00Z","y":42.5,"y2":52.5}]},"mark":{"type":"rect","fill":"#7e57c2"},"encoding":{"x2":{"field":"d2"},"y2":{"field":"y2"}}},
{"data":{"values":[{"d":"2024-12-30T17:45:00Z","d2":"2025-01-10T00:00:00Z","y":32.4,"y2":42.5}]},"mark":{"type":"rect","fill":"#ffeb3b"},"encoding":{"x2":{"field":"d2"},"y2":{"field":"y2"}}},
{"data":{"values":[{"d":"2024-12-30T17:45:00Z","y":47.5,"t":"47.27"}]},"mark":{"type":"text","color":"#ffffff","fontSize":11.5,"align":"left","baseline":"middle","dx":9,"font":"Noto Sans"},"encoding":{"text":{"field":"t"}}},
{"data":{"values":[{"d":"2024-12-30T17:45:00Z","y":37.4,"t":"43.16"}]},"mark":{"type":"text","color":"#131722","fontSize":11.5,"align":"left","baseline":"middle","dx":9,"font":"Noto Sans"},"encoding":{"text":{"field":"t"}}},
{"data":{"values":[{"d":"2024-03-28T22:00:00Z","d2":"2025-01-22T10:00:00Z","y":-19.2,"y2":1.35}]},"mark":{"type":"rect","fill":"#ffffff"},"encoding":{"x2":{"field":"d2"},"y2":{"field":"y2"}}},
{"data":{"values":[{"d":"2024-03-31T02:00:00Z","d2":"2025-01-20T01:00:00Z","y":1.35,"y2":580.2}]},"mark":{"type":"rect","filled":false,"stroke":"#e4e4ea","strokeWidth":2},"encoding":{"x2":{"field":"d2"},"y2":{"field":"y2"}}},
{"data":{"values":[{"d":"2024-04-02T04:00:00Z","y":-8.6}]},"mark":{"type":"point","filled":true,"shape":"M-1,-0.6H0.05V0.6H-0.4V-0.05H-1ZM0.12,-0.6A0.25,0.25 0 1 1 0.13,-0.6ZM0.55,-0.6H1L0.45,0.6H0Z","color":"#131722","size":324,"opacity":1}},
{"data":{"values":[{"d":"2024-04-05T17:00:00Z","y":-8.6,"t":"TradingView"}]},"mark":{"type":"text","color":"#3a3e4a","fontSize":12.5,"align":"left","baseline":"middle","font":"Noto Sans"},"encoding":{"text":{"field":"t"}}}
]}
]}
